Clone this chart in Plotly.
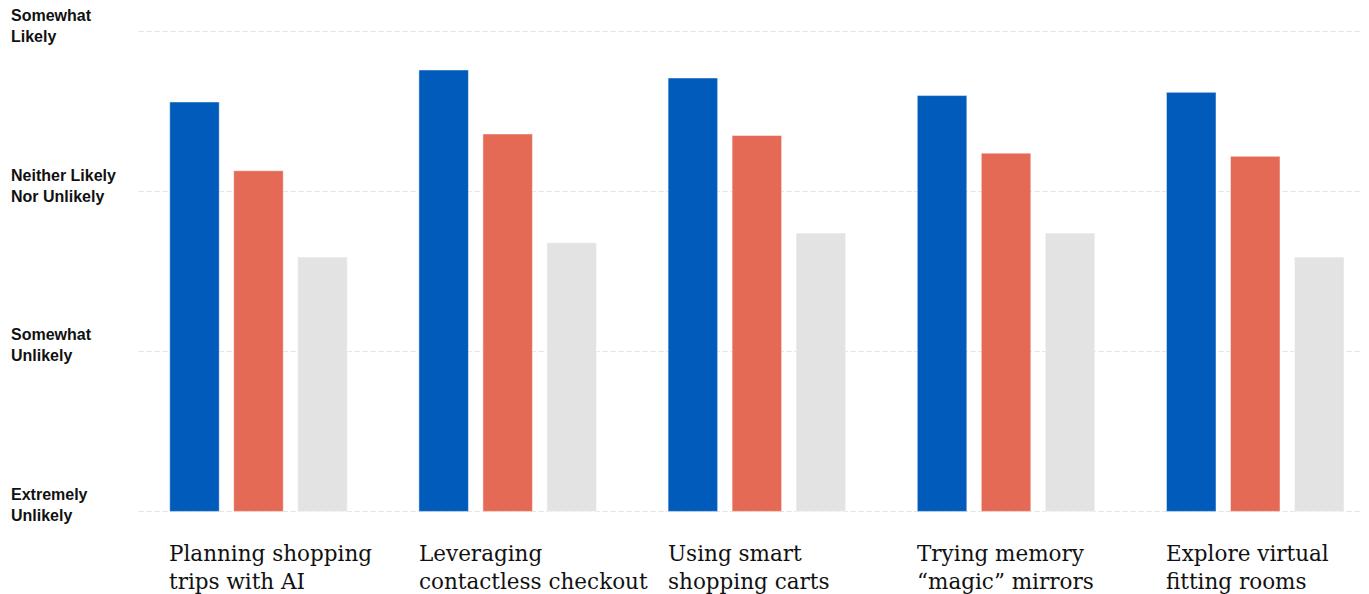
import plotly.graph_objects as go

categories = [
    "Planning shopping<br>trips with AI",
    "Leveraging<br>contactless checkout",
    "Using smart<br>shopping carts",
    "Trying memory<br>“magic” mirrors",
    "Explore virtual<br>fitting rooms",
]
series_names = ["Series 1", "Series 2", "Series 3"]
series_values = [
    [3.56, 3.76, 3.71, 3.60, 3.62],
    [3.13, 3.36, 3.35, 3.24, 3.22],
    [2.59, 2.68, 2.74, 2.74, 2.59],
]
series_colors = ["#005BBB", "#E46A55", "#E3E3E3"]
tick_vals = [1, 2, 3, 4]
tick_text = ["Extremely<br>Unlikely", "Somewhat<br>Unlikely",
             "Neither Likely<br>Nor Unlikely", "Somewhat<br>Likely"]

# page has an 8px body margin, so the figure is sized to end at the window edge
W, H = 1361, 586
ML, MR, MT, MB = 130, 0, 22, 81
plot_w = W - ML - MR
base_val = tick_vals[0]

fig = go.Figure()
for name, vals, col in zip(series_names, series_values, series_colors):
    fig.add_trace(go.Bar(
        x=categories, y=[v - base_val for v in vals], base=base_val, name=name,
        marker=dict(color=col, line=dict(color="rgba(255,255,255,0.6)", width=0.8)),
        hoverinfo="skip", showlegend=False,
    ))

annotations = []
for v, t in zip(tick_vals, tick_text):
    annotations.append(dict(
        x=(1 - ML) / plot_w, xref="paper", y=v, yref="y",
        text=t, showarrow=False, xanchor="left", yanchor="middle", align="left",
        yshift=6,
        font=dict(family="Liberation Sans, Arial, sans-serif", size=16, color="#111111", weight="bold"),
    ))
for c in categories:
    annotations.append(dict(
        x=c, xref="x", y=0, yref="paper",
        text=c, showarrow=False, xanchor="left", yanchor="top", align="left",
        xshift=-91, yshift=-26,
        font=dict(family="DejaVu Serif, Georgia, serif", size=21.5, color="#111111"),
    ))

fig.update_layout(
    width=W, height=H,
    margin=dict(l=ML, r=MR, t=MT, b=MB, pad=0),
    paper_bgcolor="white", plot_bgcolor="white",
    barmode="group", bargap=0.2295, bargroupgap=0.226,
    xaxis=dict(range=[-0.4835, 4.4565], showticklabels=False, showgrid=False,
               zeroline=False, showline=False, ticks=""),
    yaxis=dict(range=[0.99, 4.01], tickvals=tick_vals, showticklabels=False,
               showgrid=True, gridcolor="#E6E6E6", griddash="6px,2px", gridwidth=1,
               zeroline=False, showline=False, ticks=""),
    annotations=annotations,
)

fig.write_html("out.html")
